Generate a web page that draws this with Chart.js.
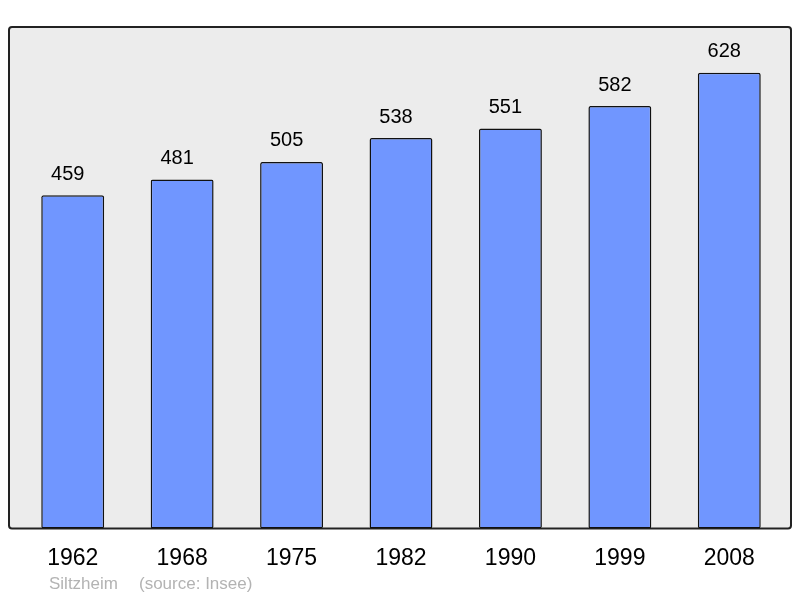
<!DOCTYPE html>
<html>
<head>
<meta charset="utf-8">
<script src="https://cdn.jsdelivr.net/npm/chart.js@4"></script>
<style>
  body { margin: 0; background: #fff; }
  #wrap { width: 800px; height: 598px; position: relative; }
</style>
</head>
<body>
<div id="wrap"><canvas id="myChart" width="800" height="598"></canvas></div>
<script>
const years = ['1962', '1968', '1975', '1982', '1990', '1999', '2008'];
const population = [459, 481, 505, 538, 551, 582, 628];
const town = 'Siltzheim';
const source = '(source: Insee)';

// grey box with black frame behind the bars
const frame = {
  id: 'frame',
  beforeDraw(chart) {
    const c = chart.ctx, a = chart.chartArea;
    const x = a.left - 9, y = a.top, w = a.right - a.left + 16, h = a.bottom - a.top;
    c.save();
    c.fillStyle = '#ececec';
    c.strokeStyle = '#222';
    c.lineWidth = 2;
    c.beginPath();
    c.roundRect(x, y, w, h, 3);
    c.fill();
    c.stroke();
    c.restore();
  },
  afterDraw(chart) {
    const c = chart.ctx;
    const meta = chart.getDatasetMeta(0);
    c.save();
    c.fillStyle = '#000';
    c.font = '20px "Liberation Sans", Arial, sans-serif';
    c.textAlign = 'center';
    c.textBaseline = 'middle';
    meta.data.forEach((bar, i) => {
      c.fillText(population[i], bar.x - 5, bar.y - 21);
    });
    c.fillStyle = '#b3b3b3';
    c.font = '17px "Liberation Sans", Arial, sans-serif';
    c.textAlign = 'left';
    c.fillText(town, 49, 584);
    c.fillText(source, 139, 584);
    c.restore();
  }
};

new Chart(document.getElementById('myChart'), {
  type: 'bar',
  data: {
    labels: years,
    datasets: [{
      data: population,
      backgroundColor: '#7096ff',
      borderColor: '#111',
      borderWidth: 1.5,
      borderRadius: 2,
      borderSkipped: false,
      categoryPercentage: 1,
      barPercentage: 0.575
    }]
  },
  options: {
    responsive: false,
    animation: false,
    layout: { padding: { left: 18, right: 16, top: 27, bottom: 10 } },
    plugins: { legend: { display: false }, tooltip: { enabled: false } },
    scales: {
      x: {
        grid: { display: false, drawTicks: false },
        border: { display: false },
        ticks: { color: '#000', padding: 16, font: { size: 23, family: '"Liberation Sans", Arial, sans-serif' } }
      },
      y: {
        display: false,
        min: 0,
        max: 691
      }
    }
  },
  plugins: [frame]
});
</script>
</body>
</html>
